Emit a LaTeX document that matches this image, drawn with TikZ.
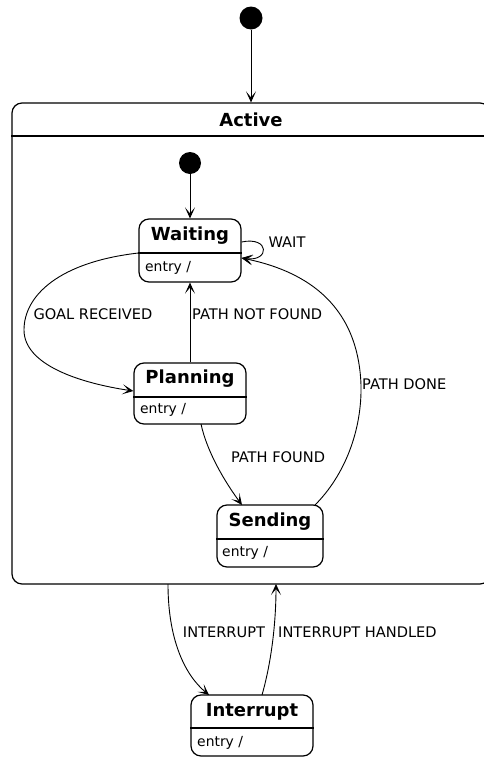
\documentclass[tikz,border=0pt]{standalone}
\usepackage{fontspec}
\setmainfont{DejaVu Sans}
\usetikzlibrary{arrows.meta,calc}
\tikzset{
  x=1pt, y=-1pt,
  statebox/.style={draw, line width=1.2pt, rounded corners=10pt, inner sep=0pt},
  divline/.style={line width=1.2pt},
  stitle/.style={inner sep=0pt, font=\fontsize{18}{20}\selectfont\bfseries},
  sentry/.style={inner sep=0pt, anchor=west, font=\fontsize{13.9}{16}\selectfont},
  lbl/.style={inner sep=0pt, font=\fontsize{14.6}{17}\selectfont},
  initdot/.style={circle, fill=black, inner sep=0pt, minimum size=23pt},
  arr/.style={line width=0.9pt, -{Stealth[length=11pt,width=10pt,inset=6pt]}},
}
\begin{document}
\begin{tikzpicture}
\useasboundingbox (0,0) rectangle (484,758);
\clip (0,0) rectangle (484,758);
% outer initial state
\node[initdot] (init1) at (251,18) {};
% Active composite
\node[statebox, minimum width=478pt, minimum height=481pt] (active) at (251,343.5) {};
\draw[divline] (active.west |- 0,136) -- (active.east |- 0,136);
\node[stitle] (activeT) at (251,120) {Active};
% inner initial
\node[initdot, minimum size=22pt] (init2) at (190,163) {};
% Waiting
\node[statebox, minimum width=102pt, minimum height=63pt] (waiting) at (190,250.5) {};
\draw[divline] (waiting.west |- 0,253) -- (waiting.east |- 0,253);
\node[stitle] (waitingT) at (190,236) {Waiting};
\node[sentry] (waitingE) at (145,268) {entry /};
% Planning
\node[statebox, minimum width=112pt, minimum height=61pt] (planning) at (190,393.5) {};
\draw[divline] (planning.west |- 0,397) -- (planning.east |- 0,397);
\node[stitle] (planningT) at (190,379) {Planning};
\node[sentry] (planningE) at (140,410) {entry /};
% Sending
\node[statebox, minimum width=106pt, minimum height=62pt] (sending) at (270,536) {};
\draw[divline] (sending.west |- 0,539) -- (sending.east |- 0,539);
\node[stitle] (sendingT) at (270,522) {Sending};
\node[sentry] (sendingE) at (222,553) {entry /};
% Interrupt
\node[statebox, minimum width=122pt, minimum height=61pt] (interrupt) at (252,725.5) {};
\draw[divline] (interrupt.west |- 0,728) -- (interrupt.east |- 0,728);
\node[stitle] (interruptT) at (252,712) {Interrupt};
\node[sentry] (interruptE) at (197,743) {entry /};

% transitions
\draw[arr] (init1) -- (init1 |- active.north);
\draw[arr] (init2) -- (waiting);
% WAIT self loop
\draw[arr] ($(waiting.east)+(0,-8.5)$) .. controls (270,236) and (270,262) .. ($(waiting.east)+(0,7.5)$);
\node[lbl] (lwait) at (287,242) {WAIT};
% GOAL RECEIVED
\draw[arr] ($(waiting.west)+(0,2.5)$) .. controls (60,262) and (24,295) .. (24,330)
  .. controls (24,365) and (80,383) .. ($(planning.west)+(0,-2.5)$);
\node[lbl] (lgoal) at (93,314) {GOAL RECEIVED};
% PATH NOT FOUND
\draw[arr] (planning.north) -- (waiting.south);
\node[lbl, anchor=west] (lnotfound) at (192,314) {PATH NOT FOUND};
% PATH FOUND
\draw[arr] (201,424) .. controls (207,452) and (225,482) .. (242,505);
\node[lbl] (lfound) at (278,457) {PATH FOUND};
% PATH DONE
\draw[arr] (315,505) .. controls (345,475) and (362,430) .. (361,385)
  .. controls (358,300) and (300,270) .. ($(waiting.east)+(0,7.5)$);
\node[lbl, anchor=west] (ldone) at (362,384) {PATH DONE};
% INTERRUPT
\draw[arr] (168,584) .. controls (168,640) and (185,675) .. (209,695);
\node[lbl] (lint) at (224,632) {INTERRUPT};
% INTERRUPT HANDLED
\draw[arr] (262,695) .. controls (272,660) and (276,620) .. (276,584);
\node[lbl, anchor=west] (lhandled) at (278,632) {INTERRUPT HANDLED};
\end{tikzpicture}
\end{document}
